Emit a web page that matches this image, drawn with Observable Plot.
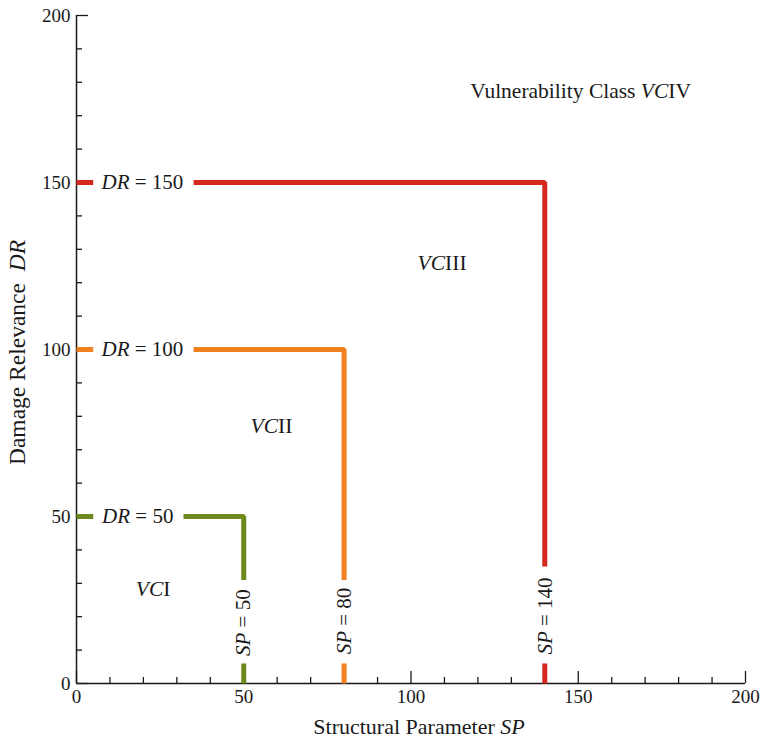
<!DOCTYPE html>
<html><head><meta charset="utf-8">
<script src="https://cdn.jsdelivr.net/npm/d3@7"></script>
<script src="https://cdn.jsdelivr.net/npm/@observablehq/plot@0.6"></script>
<style>body{margin:0;background:#fff}</style>
</head><body><div id="chart"></div>
<script>
// thresholds per vulnerability class boundary
const drThresholds = [50, 100, 150];
const spThresholds = [50, 80, 140];
const colors = ["#6f8a1c", "#f08020", "#d4281f"];
const hGapStart = [5, 5, 5];
const hGapEnd = [32, 35, 35];
const vGapStart = [6, 6, 6];
const vGapEnd = [31, 31, 35];
const drLabels = ["*DR* = 50", "*DR* = 100", "*DR* = 150"];
const drLabelX = [18.3, 19.7, 19.7];
const spLabels = ["*SP* = 50", "*SP* = 80", "*SP* = 140"];
const spLabelY = [18.2, 18.7, 20.2];
const regionLabels = ["*VC*I", "*VC*II", "*VC*III", "Vulnerability Class *VC*IV"];
const regionX = [22.9, 58.3, 109.3, 150.7];
const regionY = [28.4, 77.2, 126, 177.5];
const majorTicks = [0, 50, 100, 150, 200];
const minorTicks = [10, 20, 30, 40, 60, 70, 80, 90, 110, 120, 130, 140, 160, 170, 180, 190];
const xLabel = "Structural Parameter *SP*";
const yLabel = "Damage Relevance  *DR*";

const FF = "Liberation Serif";
const txt = fs => ({fill: "#1a1a1a", fontSize: fs, fontFamily: FF});

const rows = [];
drThresholds.forEach((dr, i) => {
  const sp = spThresholds[i];
  const paths = [
    [[0, dr], [hGapStart[i], dr]],
    [[hGapEnd[i], dr], [sp, dr], [sp, vGapEnd[i]]],
    [[sp, vGapStart[i]], [sp, 0]]
  ];
  paths.forEach((p, j) => p.forEach(([x, y]) => rows.push({x, y, z: i + "-" + j, c: colors[i]})));
});
const drTable = drThresholds.map((d, i) => ({x: drLabelX[i], y: d, t: drLabels[i]}));
const spTable = spThresholds.map((d, i) => ({x: d, y: spLabelY[i], t: spLabels[i]}));
const regTable = regionLabels.map((t, i) => ({x: regionX[i], y: regionY[i], t}));

const plot = Plot.plot({
  width: 762, height: 742,
  marginLeft: 76, marginRight: 17, marginTop: 15, marginBottom: 59,
  x: {domain: [0, 200]},
  y: {domain: [0, 200]},
  color: {type: "identity"},
  style: {fontFamily: FF, fontSize: "19px", color: "#1a1a1a", background: "#fff"},
  marks: [
    Plot.axisX(minorTicks, {tickSize: -6, tickFormat: () => "", label: null, strokeWidth: 1.3}),
    Plot.axisX(majorTicks, {tickSize: -12, tickFormat: () => "", label: null, strokeWidth: 1.3}),
    Plot.axisY(minorTicks, {tickSize: -6, tickFormat: () => "", label: null, strokeWidth: 1.3}),
    Plot.axisY(majorTicks, {tickSize: -12, tickFormat: () => "", label: null, strokeWidth: 1.3}),
    Plot.axisX(majorTicks, {tickSize: 0, tickPadding: 6, label: null, ...txt(19)}),
    Plot.axisY(majorTicks, {tickSize: 0, tickPadding: 6, label: null, ...txt(19)}),
    Plot.ruleX([0], {stroke: "#1a1a1a", strokeWidth: 1.5}),
    Plot.ruleY([0], {stroke: "#1a1a1a", strokeWidth: 1.5}),
    Plot.line(rows, {x: "x", y: "y", z: "z", stroke: "c", strokeWidth: 5, strokeLinejoin: "miter", strokeLinecap: "butt"}),
    Plot.text(drTable, {x: "x", y: "y", text: "t", ...txt(21)}),
    Plot.text(spTable, {x: "x", y: "y", text: "t", rotate: -90, ...txt(21)}),
    Plot.text(regTable, {x: "x", y: "y", text: "t", ...txt(21.5)}),
    Plot.text([xLabel], {text: d => d, frameAnchor: "bottom", textAnchor: "middle", dx: 8, dy: 50, ...txt(22)}),
    Plot.text([yLabel], {text: d => d, frameAnchor: "left", textAnchor: "middle", rotate: -90, dx: -59, dy: 3, ...txt(23.5)})
  ]
});

// render *...* segments as italic tspans
d3.select(plot).selectAll("text").each(function() {
  const el = d3.select(this);
  if (el.selectAll("tspan").size() > 0) return;
  const s = el.text();
  if (!s.includes("*")) return;
  el.text(null);
  el.attr("xml:space", "preserve").style("white-space", "pre");
  s.split("*").forEach((part, k) => {
    if (!part) return;
    const ts = el.append("tspan").text(part);
    if (k % 2 === 1) ts.attr("font-style", "italic");
  });
});
document.getElementById("chart").append(plot);
</script>
</body></html>
